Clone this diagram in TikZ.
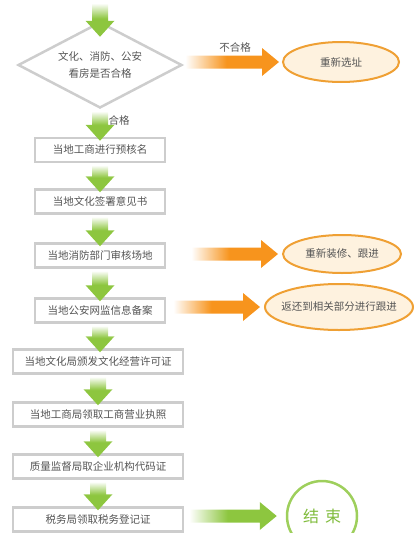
\documentclass[tikz,border=0pt]{standalone}
\usepackage{fontspec}
\setmainfont{Noto Sans CJK SC}
\usetikzlibrary{shapes.geometric,calc}

\definecolor{agreen}{HTML}{8DC63F}
\definecolor{aorange}{HTML}{F7941D}
\definecolor{boxgray}{HTML}{CDCDCD}
\definecolor{txtgray}{HTML}{555555}
\definecolor{eborder}{HTML}{EFA034}
\definecolor{efill}{HTML}{FEF2DF}
\definecolor{endgreen}{HTML}{80BC3C}

% fades: path box is mapped to 25bp..75bp
\pgfdeclareverticalshading{gfade}{100bp}{color(0bp)=(agreen); color(25bp)=(agreen);
  color(52bp)=(agreen); color(75bp)=(white); color(100bp)=(white)}
\pgfdeclarehorizontalshading{ofade}{100bp}{color(0bp)=(white); color(25bp)=(white);
  color(47bp)=(aorange); color(100bp)=(aorange)}
\pgfdeclarehorizontalshading{gfadeh}{100bp}{color(0bp)=(white); color(25bp)=(white);
  color(47bp)=(agreen); color(100bp)=(agreen)}

% green block arrow, from the bottom of #2 down into #3 (#1 = overlap)
\newcommand\gdown[3][4pt]{%
  \shade[shading=gfade]
    let \p1=(#2.south), \p2=(#3.north) in
    (\x1-8pt,\y1-2pt) -- (\x1+8pt,\y1-2pt) -- (\x1+8pt,\y2-#1+16pt)
    -- (\x1+14.5pt,\y2-#1+16pt) -- (\x1,\y2-#1) -- (\x1-14.5pt,\y2-#1+16pt)
    -- (\x1-8pt,\y2-#1+16pt) -- cycle;}

% block arrow to the right: #1 shading, from #2 to #3, #4 gap at start, #5 gap at tip
\newcommand\hright[5]{%
  \shade[shading=#1]
    let \p1=(#2.east), \p2=(#3.west) in
    (\x1+#4,\y2+6.5pt) -- (\x2-#5-17pt,\y2+6.5pt) -- (\x2-#5-17pt,\y2+14pt)
    -- (\x2-#5,\y2) -- (\x2-#5-17pt,\y2-14pt) -- (\x2-#5-17pt,\y2-6.5pt)
    -- (\x1+#4,\y2-6.5pt) -- cycle;}

\begin{document}
\begin{tikzpicture}[x=1pt, y=-1pt,
  txt/.style={font=\fontsize{10.5}{17}\selectfont, text=txtgray},
  stepbox/.style={txt, draw=boxgray, line width=2.5pt, fill=white,
    minimum height=24pt, inner sep=0pt},
  check/.style={txt, diamond, draw=boxgray, line width=2.5pt, fill=white,
    shape aspect=2, inner sep=0pt, minimum width=164pt, minimum height=86pt,
    align=center},
  redo/.style={txt, ellipse, draw=eborder, line width=2pt, fill=efill,
    inner sep=0pt},
  finish/.style={circle, draw=agreen!85!white, line width=2.5pt, fill=white,
    minimum size=70pt, text=endgreen, font=\fontsize{16}{20}\selectfont}]
\useasboundingbox (0,0) rectangle (413,533);

\node[inner sep=0pt, minimum size=0pt] (start) at (100,1) {};
\node[check] (chk) at (100,65) {文化、消防、公安\\看房是否合格};

\node[stepbox, minimum width=130pt] (b1) at (100,150) {当地工商进行预核名};
\node[stepbox, minimum width=130pt] (b2) at (100,201.5) {当地文化签署意见书};
\node[stepbox, minimum width=130pt] (b3) at (100,255.5) {当地消防部门审核场地};
\node[stepbox, minimum width=130pt] (b4) at (100,310.5) {当地公安网监信息备案};
\node[stepbox, minimum width=170pt] (b5) at (98,361.5) {当地文化局颁发文化经营许可证};
\node[stepbox, minimum width=170pt] (b6) at (98,414.5) {当地工商局领取工商营业执照};
\node[stepbox, minimum width=170pt] (b7) at (98,466.5) {质量监督局取企业机构代码证};
\node[stepbox, minimum width=170pt] (b8) at (98,519.5) {税务局领取税务登记证};

\node[redo, minimum width=116pt, minimum height=40pt] (e1) at (341,62) {\makebox[0pt]{重新选址}};
\node[redo, minimum width=118pt, minimum height=38pt] (e2) at (342,254) {\makebox[0pt]{重新装修、跟进}};
\node[redo, minimum width=148pt, minimum height=46pt] (e3) at (339,307) {\makebox[0pt]{返还到相关部分进行跟进}};
\node[finish] (end) at (322,516) {结\hspace{6pt}束};

% down arrows
\gdown[16pt]{start}{chk}
\gdown{chk}{b1}
\gdown{b1}{b2}
\gdown{b2}{b3}
\gdown{b3}{b4}
\gdown{b4}{b5}
\gdown{b5}{b6}
\gdown{b6}{b7}
\gdown{b7}{b8}

% side arrows
\hright{ofade}{chk}{e1}{2pt}{3pt}
\hright{ofade}{b3}{e2}{25pt}{4pt}
\hright{ofade}{b4}{e3}{7pt}{4pt}
\hright{gfadeh}{b8}{end}{5pt}{9pt}

\node[txt] (nohg) at (235,47) {不合格};
\node[txt] (hg) at (119,120) {合格};
\end{tikzpicture}
\end{document}
